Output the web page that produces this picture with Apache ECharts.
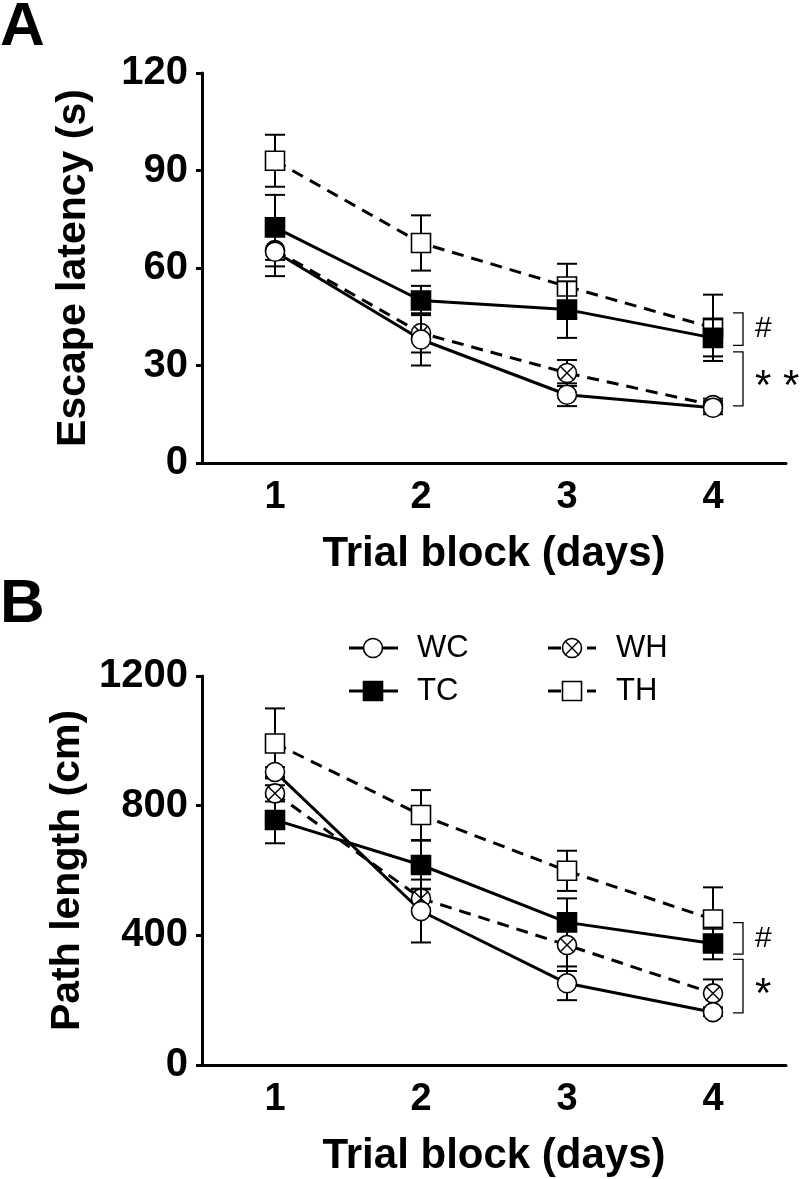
<!DOCTYPE html>
<html>
<head>
<meta charset="utf-8">
<script src="https://cdn.jsdelivr.net/npm/echarts@6/dist/echarts.min.js"></script>
<style>
html,body{margin:0;padding:0;background:#fff;}
#chart{width:801px;height:1179px;}
</style>
</head>
<body>
<div id="chart"></div>
<script>
// ---------- data ----------
var days = ['1', '2', '3', '4'];

// Panel A: escape latency (s)
var latWC = [65, 38, 21, 17];
var latWCerr = [7.5, 8, 3.5, 2];
var latWH = [65.5, 40, 27.7, 17.8];
var latWHerr = [5, 6, 4, 2];
var latTC = [72.5, 50, 47.2, 38.5];
var latTCerr = [10, 4.5, 8.7, 5.7];
var latTH = [93, 67.7, 54.3, 41.6];
var latTHerr = [8, 8.5, 7, 10.2];

// Panel B: path length (cm)
var pathWC = [904, 475, 252, 163];
var pathWCerr = [15, 97, 52, 12];
var pathWH = [838, 514, 370, 221];
var pathWHerr = [25, 30, 80, 43];
var pathTC = [756, 617, 440, 375];
var pathTCerr = [72, 75, 74, 49];
var pathTH = [992, 771, 599, 449];
var pathTHerr = [108, 77, 62, 99];

// significance brackets: [top value, bottom value] and their labels
var bracketsA = [[46.2, 36.2], [34.2, 17.6]];
var bracketLabelsA = ['#', '**'];
var bracketsB = [[439, 342], [326, 161]];
var bracketLabelsB = ['#', '*'];

var latTicks = {min: 0, max: 120, interval: 30};
var pathTicks = {min: 0, max: 1200, interval: 400};

var groups = ['WC', 'TC', 'WH', 'TH'];

// ---------- helpers ----------
var FONT = "'Liberation Sans', Arial, Helvetica, sans-serif";
var R = 9.5;

function markerShapes(kind, cx, cy) {
  var out = [];
  if (kind === 'WC' || kind === 'WH') {
    out.push({type: 'circle', shape: {cx: cx, cy: cy, r: R},
      style: {fill: '#fff', stroke: '#000', lineWidth: 1.6}});
    if (kind === 'WH') {
      var d = R * 0.7071;
      out.push({type: 'line', shape: {x1: cx - d, y1: cy - d, x2: cx + d, y2: cy + d},
        style: {stroke: '#000', lineWidth: 1.4}});
      out.push({type: 'line', shape: {x1: cx - d, y1: cy + d, x2: cx + d, y2: cy - d},
        style: {stroke: '#000', lineWidth: 1.4}});
    }
  } else {
    out.push({type: 'rect', shape: {x: cx - R, y: cy - R, width: 2 * R, height: 2 * R},
      style: {fill: kind === 'TC' ? '#000' : '#fff', stroke: '#000', lineWidth: 1.6}});
  }
  return out;
}

function pointRender(kind) {
  return function (params, api) {
    var xi = api.value(0), v = api.value(1), e = api.value(2);
    var p = api.coord([xi, v]);
    var pt = api.coord([xi, v + e]);
    var pb = api.coord([xi, v - e]);
    var hw = 10;
    var st = {stroke: '#000', lineWidth: 2};
    var ch = [
      {type: 'line', shape: {x1: p[0], y1: pt[1], x2: p[0], y2: pb[1]}, style: st},
      {type: 'line', shape: {x1: p[0] - hw, y1: pt[1], x2: p[0] + hw, y2: pt[1]}, style: st},
      {type: 'line', shape: {x1: p[0] - hw, y1: pb[1], x2: p[0] + hw, y2: pb[1]}, style: st}
    ];
    ch = ch.concat(markerShapes(kind, p[0], p[1]));
    return {type: 'group', children: ch};
  };
}

function bracketRender(labels) {
  return function (params, api) {
    var top = api.value(0), bot = api.value(1);
    var label = labels[params.dataIndex];
    var pt = api.coord([3, top]);
    var pb = api.coord([3, bot]);
    var xv = pt[0] + 30, xl = pt[0] + 20;
    var st = {stroke: '#000', lineWidth: 1.3, fill: null};
    var isStar = label.indexOf('*') >= 0;
    return {type: 'group', children: [
      {type: 'polyline', shape: {points: [[xl, pt[1]], [xv, pt[1]], [xv, pb[1]], [xl, pb[1]]]}, style: st},
      {type: 'text', x: xv + 12, y: (pt[1] + pb[1]) / 2 + (isStar ? 9 : 0),
        style: {text: isStar ? label.split('').join(' ') : label,
          fontFamily: FONT, fontSize: isStar ? 42 : 30, fill: '#000',
          align: 'left', verticalAlign: 'middle'}}
    ]};
  };
}

function tri(vals, errs) {
  return vals.map(function (v, i) { return [i, v, errs[i]]; });
}

var panels = [
  {vals: {WC: latWC, TC: latTC, WH: latWH, TH: latTH},
   errs: {WC: latWCerr, TC: latTCerr, WH: latWHerr, TH: latTHerr},
   brackets: bracketsA, labels: bracketLabelsA, ticks: latTicks, name: 'Escape latency (s)'},
  {vals: {WC: pathWC, TC: pathTC, WH: pathWH, TH: pathTH},
   errs: {WC: pathWCerr, TC: pathTCerr, WH: pathWHerr, TH: pathTHerr},
   brackets: bracketsB, labels: bracketLabelsB, ticks: pathTicks, name: 'Path length (cm)'}
];

var grids = [
  {left: 202, right: 15, top: 73, height: 390},
  {left: 202, right: 15, top: 676, height: 389}
];

var xAxes = [], yAxes = [], series = [];
panels.forEach(function (pn, gi) {
  xAxes.push({
    type: 'category', gridIndex: gi, data: days, boundaryGap: true,
    axisLine: {lineStyle: {color: '#000', width: 3}},
    axisTick: {alignWithLabel: true, length: 6, lineStyle: {color: '#000', width: 2.5}},
    axisLabel: {color: '#000', fontFamily: FONT, fontWeight: 'bold', fontSize: 38, margin: 16},
    name: 'Trial block (days)', nameLocation: 'middle', nameGap: 70,
    nameTextStyle: {color: '#000', fontFamily: FONT, fontWeight: 'bold', fontSize: 42}
  });
  yAxes.push({
    type: 'value', gridIndex: gi, min: pn.ticks.min, max: pn.ticks.max, interval: pn.ticks.interval,
    splitLine: {show: false},
    axisLine: {show: true, lineStyle: {color: '#000', width: 3}},
    axisTick: {show: true, length: 6, lineStyle: {color: '#000', width: 3}},
    axisLabel: {color: '#000', fontFamily: FONT, fontWeight: 'bold', fontSize: 40, margin: 14,
      formatter: function (v) { return String(v); }},
    name: pn.name, nameLocation: 'middle', nameGap: 108,
    nameTextStyle: {color: '#000', fontFamily: FONT, fontWeight: 'bold', fontSize: 41}
  });
  groups.forEach(function (g) {
    var dashed = (g === 'WH' || g === 'TH');
    series.push({
      type: 'line', xAxisIndex: gi, yAxisIndex: gi, data: pn.vals[g],
      showSymbol: false, silent: true, z: 2,
      lineStyle: {color: '#000', width: 3, type: dashed ? [12, 8] : 'solid'}
    });
  });
  ['TH', 'TC', 'WH', 'WC'].forEach(function (g) {
    series.push({
      type: 'custom', xAxisIndex: gi, yAxisIndex: gi, z: 3, silent: true,
      data: tri(pn.vals[g], pn.errs[g]),
      encode: {x: 0, y: 1},
      renderItem: pointRender(g)
    });
  });
  series.push({
    type: 'custom', xAxisIndex: gi, yAxisIndex: gi, z: 3, silent: true, clip: false,
    data: pn.brackets, encode: {y: [0, 1]},
    renderItem: bracketRender(pn.labels)
  });
});

// ---------- legend & panel letters (graphic) ----------
var legendItems = [
  {g: 'WC', x: 349, y: 648, dashed: false},
  {g: 'TC', x: 349, y: 691, dashed: false},
  {g: 'WH', x: 548, y: 648, dashed: true},
  {g: 'TH', x: 548, y: 691, dashed: true}
];
var graphic = [];
legendItems.forEach(function (it) {
  var ch = [];
  var cx = it.x + 24;
  if (it.dashed) {
    ch.push({type: 'line', shape: {x1: it.x, y1: it.y, x2: it.x + 13, y2: it.y}, style: {stroke: '#000', lineWidth: 3}});
    ch.push({type: 'line', shape: {x1: it.x + 39, y1: it.y, x2: it.x + 48, y2: it.y}, style: {stroke: '#000', lineWidth: 3}});
  } else {
    ch.push({type: 'line', shape: {x1: it.x, y1: it.y, x2: it.x + 49, y2: it.y}, style: {stroke: '#000', lineWidth: 3}});
  }
  ch = ch.concat(markerShapes(it.g, cx, it.y));
  ch.push({type: 'text', x: it.x + 68, y: it.y,
    style: {text: it.g, fontFamily: FONT, fontSize: 31, fill: '#000', align: 'left', verticalAlign: 'middle'}});
  graphic.push({type: 'group', children: ch});
});
graphic.push({type: 'text', left: 0, top: -3,
  style: {text: 'A', fontFamily: FONT, fontWeight: 'bold', fontSize: 62, fill: '#000'}});
graphic.push({type: 'text', left: 0, top: 574,
  style: {text: 'B', fontFamily: FONT, fontWeight: 'bold', fontSize: 62, fill: '#000'}});

var chart = echarts.init(document.getElementById('chart'), null, {renderer: 'canvas'});
chart.setOption({
  animation: false,
  backgroundColor: '#fff',
  grid: grids,
  xAxis: xAxes,
  yAxis: yAxes,
  series: series,
  graphic: graphic
});
</script>
</body>
</html>
